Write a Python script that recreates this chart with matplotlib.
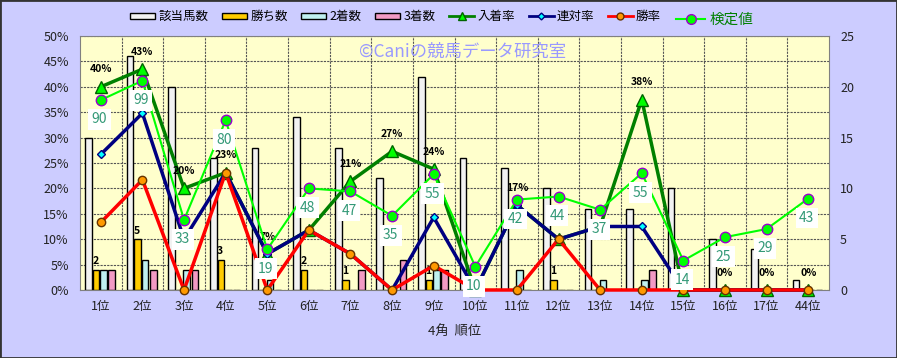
import matplotlib.pyplot as plt
import numpy as np
from matplotlib.patches import Patch, Rectangle
from matplotlib.lines import Line2D

plt.rcParams['font.family'] = ['Noto Sans CJK JP', 'DejaVu Sans']

# data
ranks = ['1位', '2位', '3位', '4位', '5位', '6位', '7位', '8位', '9位',
         '10位', '11位', '12位', '13位', '14位', '15位', '16位', '17位', '44位']
horses = [15, 23, 20, 13, 14, 17, 14, 11, 21, 13, 12, 10, 8, 8, 10, 5, 4, 1]
wins = [2, 5, 0, 3, 0, 2, 1, 0, 1, 0, 0, 1, 0, 0, 0, 0, 0, 0]
seconds = [2, 3, 2, 0, 1, 0, 0, 0, 2, 0, 2, 0, 1, 1, 0, 0, 0, 0]
thirds = [2, 2, 2, 0, 0, 0, 2, 3, 2, 0, 0, 0, 0, 2, 0, 0, 0, 0]

place_rate = [40.0, 43.48, 20.0, 23.1, 7.1, 11.8, 21.4, 27.3, 23.8, 0, 16.7, 10.0, 12.5, 37.5, 0, 0, 0, 0]
# labels that are visible in the chart (others are covered)
place_labels = ['40%', '43%', '20%', '23%', '7%', '', '21%', '27%', '24%', '',
                '17%', '', '', '38%', '', '0%', '0%', '0%']
rentai_rate = [26.7, 34.8, 10.0, 23.1, 7.1, 11.8, 7.1, 0, 14.3, 0, 16.7, 10.0, 12.5, 12.5, 0, 0, 0, 0]
win_rate = [13.3, 21.7, 0, 23.1, 0, 11.8, 7.1, 0, 4.8, 0, 0, 10.0, 0, 0, 0, 0, 0, 0]

kentei = [18.7, 20.6, 6.9, 16.7, 4.0, 10.0, 9.7, 7.3, 11.4, 2.3, 8.9, 9.2, 7.9, 11.5, 2.9, 5.2, 6.0, 9.0]
kentei_labels = [90, 99, 33, 80, 19, 48, 47, 35, 55, 10, 42, 44, 37, 55, 14, 25, 29, 43]

x = np.arange(len(ranks))

fig = plt.figure(figsize=(8.97, 3.58), dpi=100, facecolor='#ccccff')
ax = fig.add_axes([0.0892, 0.19, 0.8350, 0.7094])
ax.set_facecolor('#ffffcc')

# bars (count scale, right side)
w = 0.16
bar_sets = [(horses, -0.295, '#f2f2f2'), (wins, -0.115, '#ffcc00'),
            (seconds, 0.065, '#bff0f0'), (thirds, 0.26, '#f29ac4')]
for vals, off, col in bar_sets:
    ax.bar(x + off, vals, width=w, color=col, edgecolor='black', linewidth=1, zorder=2)

for i, v in enumerate(wins):
    if v > 0:
        ax.annotate(str(v), (x[i] - 0.13, v), xytext=(0, 6), textcoords='offset points',
                    ha='center', va='center', fontsize=7.5, fontweight='bold', zorder=3)

ax.set_xlim(-0.5, len(ranks) - 0.5)
ax.set_ylim(0, 25)
ax.set_yticks(np.arange(0, 26, 5))
ax.set_yticks(np.arange(0, 25.1, 2.5), minor=True)
ax.set_xticks(x)
ax.set_xticklabels(ranks, fontsize=9, color='#222222')
ax.set_xticks(np.arange(0.5, len(ranks) - 0.5, 1), minor=True)
ax.tick_params(axis='x', length=0, pad=7)
ax.tick_params(which='minor', length=0)
ax.grid(True, which='minor', color='#555555', linestyle=(0, (2, 1)), linewidth=0.8, zorder=0)
ax.grid(True, which='major', axis='y', color='#555555', linestyle=(0, (2, 1)), linewidth=0.8, zorder=0)
ax.set_axisbelow(True)
ax.set_xlabel('4角  順位', fontsize=9.5, color='#222222', labelpad=9)
for s in ax.spines.values():
    s.set_color('#808080')

# rate lines (percent scale, left side)
ax2 = ax.twinx()
ax2.set_ylim(0, 50)
ax2.set_yticks(np.arange(0, 51, 5))
ax2.set_yticklabels([f'{v}%' for v in range(0, 51, 5)])
for s in ax2.spines.values():
    s.set_visible(False)

ax2.plot(x, place_rate, color='#008000', lw=2.5, marker='^', ms=8,
         mfc='#00ff00', mec='#006400', zorder=3, clip_on=False)
ax2.plot(x, rentai_rate, color='#000080', lw=2.5, marker='D', ms=4,
         mfc='#00ffff', mec='#000080', zorder=4, clip_on=False)
ax2.plot(x, win_rate, color='#ff0000', lw=2.5, marker='o', ms=6,
         mfc='#ff9900', mec='#663300', zorder=5, clip_on=False)
for i, v in enumerate(place_rate):
    if place_labels[i]:
        ax2.annotate(place_labels[i], (x[i], v), xytext=(0, 12.5), textcoords='offset points',
                     ha='center', va='center', fontsize=7.5, fontweight='bold', zorder=6)

ax2.text(0.373, 0.937, '©Caniの競馬データ研究室', transform=ax2.transAxes,
         fontsize=12.5, color='#9999ff', ha='left', va='center', zorder=1)

# 検定値 on the count scale, drawn on top
ax3 = ax.twinx()
ax3.set_ylim(0, 25)
ax3.axis('off')
ax3.plot(x, kentei, color='#00ff00', lw=1.5, marker='o', ms=7.5,
         mfc='#00ff00', mec='#9900cc', mew=1, zorder=3, clip_on=False)
for i, v in enumerate(kentei):
    ax3.annotate(str(kentei_labels[i]), (x[i], v), xytext=(-1, -14), textcoords='offset points',
                 ha='center', va='center', fontsize=10, color='#339977', zorder=5,
                 bbox=dict(boxstyle='square,pad=0.25', fc='white', ec='none'))

# twinx resets tick sides, so set them last
ax.yaxis.tick_right()
ax.tick_params(axis='y', which='both', labelsize=9, colors='#222222', length=0, pad=8,
               left=False, labelleft=False, right=True, labelright=True)
ax2.yaxis.tick_left()
ax2.tick_params(axis='y', labelsize=9, colors='#222222', length=0, pad=8,
                right=False, labelright=False, left=True, labelleft=True)

# legends
handles = [Patch(fc='#f2f2f2', ec='black'), Patch(fc='#ffcc00', ec='black'),
           Patch(fc='#bff0f0', ec='black'), Patch(fc='#f29ac4', ec='black'),
           Line2D([], [], color='#008000', lw=2, marker='^', ms=6, mfc='#00ff00', mec='#006400'),
           Line2D([], [], color='#000080', lw=2, marker='D', ms=3.5, mfc='#00ffff', mec='#000080'),
           Line2D([], [], color='#ff0000', lw=2, marker='o', ms=5, mfc='#ff9900', mec='#663300')]
labels = ['該当馬数', '勝ち数', '2着数', '3着数', '入着率', '連対率', '勝率']
fig.legend(handles, labels, loc='center', bbox_to_anchor=(0.441, 0.953), ncol=7,
           frameon=False, fontsize=9, handlelength=2.0, handleheight=0.45,
           handletextpad=0.25, columnspacing=1.1)
fig.legend([Line2D([], [], color='#00ff00', lw=1.5, marker='o', ms=7, mfc='#00ff00', mec='#9900cc')],
           ['検定値'], loc='center', bbox_to_anchor=(0.797, 0.944), frameon=False,
           fontsize=10.5, labelcolor='#008000', handlelength=2.0, handletextpad=0.3)

fig.patches.append(Rectangle((0, 0), 1, 1, transform=fig.transFigure, fill=False,
                             edgecolor='#333333', lw=2))

fig.savefig('out.png', dpi=100, facecolor=fig.get_facecolor())
